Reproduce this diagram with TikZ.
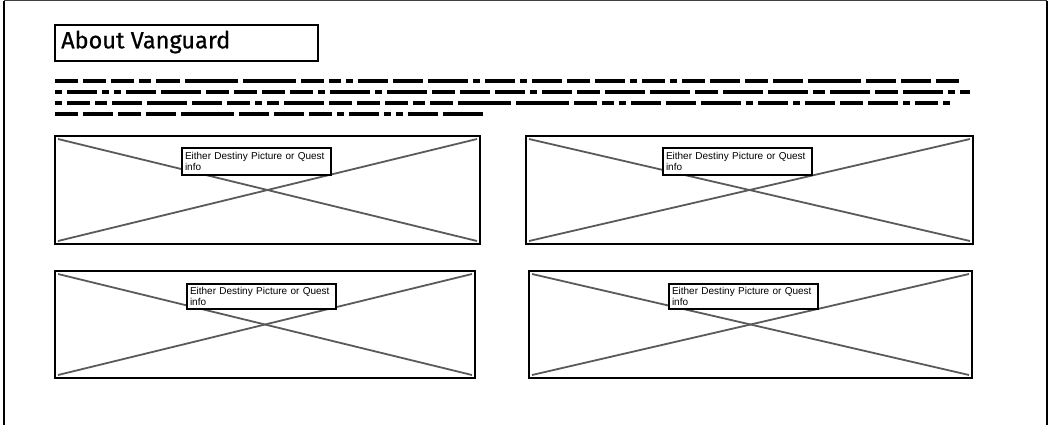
\documentclass[tikz,border=0pt]{standalone}
\usepackage{fontspec}
\setmainfont{Liberation Sans}
\newfontfamily\titlefont[FakeBold=0.7]{Fira Sans}
\begin{document}
\begin{tikzpicture}[x=1pt,y=-1pt,
  frameline/.style={line width=2pt,black},
  titlebox/.style={draw=black,line width=1.4pt,minimum width=263pt,minimum height=36pt,anchor=north west,outer sep=0pt,inner sep=0pt},
  imgbox/.style={draw=black,line width=1.8pt,anchor=north west,outer sep=0pt,inner sep=0pt},
  xline/.style={line width=1.8pt,draw={rgb,255:red,90;green,90;blue,90}},
  labelbox/.style={draw=black,fill=white,line width=1.4pt,anchor=north west,outer sep=0pt,
    minimum width=148pt,minimum height=27pt,text width=143pt,inner xsep=3pt,inner ysep=2.5pt,
    align=left,font=\fontsize{10pt}{10.8pt}\selectfont},
  scribble/.style={line width=4.2pt,line cap=butt,black}]
\useasboundingbox (0,0) rectangle (1050,424);
\fill[white] (0,0) rectangle (1050,424);
% outer frame (open at the bottom)
\coordinate (fbl) at (4,426);
\coordinate (ftl) at (4,0.7);
\coordinate (ftr) at (1047,0.7);
\coordinate (fbr) at (1047,426);
\draw[frameline] (fbl) -- (ftl);
\draw[line width=1.2pt,black!75] (ftl) -- (ftr);
\draw[frameline] (ftr) -- (fbr);
% title
\node[titlebox] (title) at (55,25) {};
\node[anchor=west,inner sep=0pt,font=\titlefont\fontsize{23.5pt}{25pt}\selectfont] (titletext) at (61,42) {About Vanguard};
% scribbled paragraph
\coordinate (s1a) at (55,81); \coordinate (s1b) at (970,81);
\coordinate (s2a) at (55,92); \coordinate (s2b) at (970,92);
\coordinate (s3a) at (55,103); \coordinate (s3b) at (970,103);
\coordinate (s4a) at (55,114); \coordinate (s4b) at (488,114);
\draw[scribble,dash pattern=on 23pt off 5pt on 23pt off 5pt on 23pt off 5pt on 12pt off 5pt on 24pt off 5pt on 53pt off 5pt on 53pt off 5pt on 23pt off 5pt on 12pt off 5pt on 7pt off 5pt on 30pt off 5pt on 30pt off 5pt on 40pt off 5pt on 7pt off 5pt on 30pt off 5pt on 7pt off 5pt on 30pt off 5pt on 23pt off 5pt on 30pt off 5pt on 7pt off 5pt on 23pt off 5pt on 7pt off 5pt on 23pt off 5pt on 30pt off 5pt on 23pt off 5pt on 30pt off 5pt on 53pt off 5pt on 30pt off 5pt on 30pt off 5pt on 23pt off 30pt] (s1a) -- (s1b);
\draw[scribble,dash pattern=on 7pt off 5pt on 30pt off 5pt on 7pt off 5pt on 7pt off 5pt on 30pt off 5pt on 40pt off 5pt on 23pt off 5pt on 23pt off 5pt on 23pt off 5pt on 23pt off 5pt on 7pt off 5pt on 40pt off 5pt on 7pt off 5pt on 40pt off 5pt on 23pt off 5pt on 30pt off 5pt on 30pt off 5pt on 7pt off 5pt on 30pt off 5pt on 23pt off 5pt on 40pt off 5pt on 40pt off 5pt on 23pt off 5pt on 40pt off 5pt on 40pt off 5pt on 12pt off 5pt on 40pt off 5pt on 23pt off 5pt on 40pt off 5pt on 7pt off 5pt on 40pt off 5pt on 23pt off 30pt] (s2a) -- (s2b);
\draw[scribble,dash pattern=on 7pt off 5pt on 23pt off 5pt on 12pt off 5pt on 30pt off 5pt on 40pt off 5pt on 30pt off 5pt on 23pt off 5pt on 7pt off 5pt on 12pt off 5pt on 40pt off 5pt on 23pt off 5pt on 23pt off 5pt on 23pt off 5pt on 12pt off 5pt on 23pt off 5pt on 53pt off 5pt on 53pt off 5pt on 23pt off 5pt on 12pt off 5pt on 7pt off 5pt on 30pt off 5pt on 30pt off 5pt on 40pt off 5pt on 7pt off 5pt on 30pt off 5pt on 7pt off 5pt on 30pt off 5pt on 23pt off 5pt on 30pt off 5pt on 7pt off 5pt on 23pt off 5pt on 7pt off 30pt] (s3a) -- (s3b);
\draw[scribble,dash pattern=on 23pt off 5pt on 30pt off 5pt on 23pt off 5pt on 30pt off 5pt on 53pt off 5pt on 30pt off 5pt on 30pt off 5pt on 23pt off 5pt on 7pt off 5pt on 30pt off 5pt on 7pt off 5pt on 7pt off 5pt on 30pt off 5pt on 40pt off 300pt] (s4a) -- (s4b);
% image placeholders
\node[imgbox,minimum width=425pt,minimum height=108pt] (p1) at (55,136) {};
\node[imgbox,minimum width=447pt,minimum height=108pt] (p2) at (526,136) {};
\node[imgbox,minimum width=420pt,minimum height=107pt] (p3) at (55,271) {};
\node[imgbox,minimum width=443pt,minimum height=107pt] (p4) at (529,271) {};
\foreach \p in {p1,p2,p3,p4}{
  \draw[xline] ([shift={(3,3)}]\p.north west) -- ([shift={(-3,-3)}]\p.south east);
  \draw[xline] ([shift={(3,-3)}]\p.south west) -- ([shift={(-3,3)}]\p.north east);
}
% labels
\node[labelbox] (l1) at (182,148) {Either Destiny Picture or Quest\\info};
\node[labelbox] (l2) at (663,148) {Either Destiny Picture or Quest\\info};
\node[labelbox,minimum height=25pt] (l3) at (187,284) {Either Destiny Picture or Quest\\info};
\node[labelbox,minimum height=25pt] (l4) at (669,284) {Either Destiny Picture or Quest\\info};
\end{tikzpicture}
\end{document}
